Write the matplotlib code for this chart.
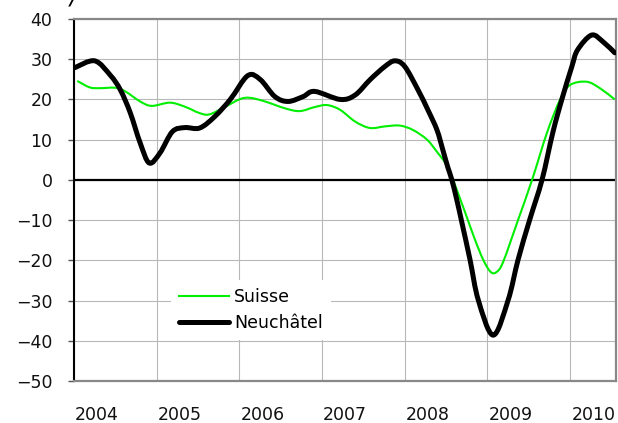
import matplotlib.pyplot as plt
import numpy as np
from matplotlib.path import Path
from matplotlib.patches import PathPatch
from matplotlib.lines import Line2D

# x positions in fractional years, values in %
neuchatel_x = [2004.01, 2004.25, 2004.44, 2004.56, 2004.68, 2004.80, 2004.91, 2005.04,
               2005.19, 2005.34, 2005.52, 2005.70, 2005.89, 2006.10, 2006.25, 2006.43,
               2006.59, 2006.77, 2006.91, 2007.22, 2007.40, 2007.58, 2007.76, 2007.88,
               2008.00, 2008.16, 2008.28, 2008.39, 2008.46, 2008.52, 2008.57, 2008.63,
               2008.69, 2008.79, 2008.89, 2009.07, 2009.25, 2009.37, 2009.51, 2009.66,
               2009.79, 2009.90, 2010.02, 2010.09, 2010.26, 2010.40, 2010.54]
neuchatel_y = [27.9, 29.6, 26.0, 22.4, 16.7, 9.2, 4.2, 6.7,
               12.0, 13.0, 12.9, 15.7, 20.0, 25.9, 25.0, 20.7,
               19.5, 20.7, 22.0, 20.0, 21.1, 24.9, 28.2, 29.6,
               28.2, 22.4, 17.4, 12.4, 7.5, 3.2, 0.0, -5.0,
               -10.5, -19.9, -29.9, -38.6, -29.9, -19.9, -10.0, 0.0,
               11.7, 20.0, 28.1, 32.3, 36.0, 34.3, 31.6]

suisse_x = [2004.04, 2004.19, 2004.31, 2004.50, 2004.62, 2004.80, 2004.94, 2005.16,
            2005.34, 2005.52, 2005.64, 2005.83, 2006.01, 2006.13, 2006.31, 2006.55,
            2006.73, 2006.91, 2007.06, 2007.22, 2007.40, 2007.58, 2007.76, 2007.94,
            2008.10, 2008.27, 2008.40, 2008.49, 2008.57, 2008.63, 2008.75, 2008.85,
            2008.95, 2009.04, 2009.11, 2009.19, 2009.37, 2009.54, 2009.72, 2009.88,
            2010.00, 2010.20, 2010.36, 2010.54]
suisse_y = [24.6, 23.0, 22.8, 22.9, 22.0, 19.5, 18.4, 19.2,
            18.2, 16.6, 16.3, 18.2, 20.1, 20.4, 19.5, 17.8,
            17.1, 18.1, 18.6, 17.4, 14.5, 12.9, 13.3, 13.5,
            12.4, 10.0, 6.7, 4.2, 0.7, -2.5, -9.2, -14.9,
            -19.9, -22.9, -22.9, -20.4, -10.0, 0.0, 11.7, 20.0,
            23.6, 24.4, 22.8, 20.0]

years = [2004, 2005, 2006, 2007, 2008, 2009, 2010]
y_ticks = list(range(-50, 41, 10))


def smooth_path(xs, ys):
    # Catmull-Rom style Bezier through the points (like Excel's smoothed lines)
    pts = np.column_stack([xs, ys])
    n = len(pts)
    verts = [pts[0]]
    codes = [Path.MOVETO]
    for i in range(n - 1):
        p0 = pts[max(i - 1, 0)]
        p1 = pts[i]
        p2 = pts[i + 1]
        p3 = pts[min(i + 2, n - 1)]
        verts += [p1 + (p2 - p0) / 6, p2 - (p3 - p1) / 6, p2]
        codes += [Path.CURVE4] * 3
    return Path(verts, codes)


fig = plt.figure(figsize=(6.18, 4.23), dpi=100)
ax = fig.add_axes([74 / 618, 1 - 381 / 423, 542 / 618, 362 / 423])

ax.set_xlim(2004, 2010.555)
ax.set_ylim(-50, 40)

ax.set_yticks(y_ticks)
ax.set_xticks(years)
ax.set_xticks([y + 0.28 for y in years], minor=True)
ax.set_xticklabels([])
ax.set_xticklabels([str(y) for y in years], minor=True)
ax.tick_params(axis="x", which="both", length=0, pad=18, labelsize=12.5, labelcolor="#111111")
ax.tick_params(axis="y", length=4.5, width=1, color="#555555", pad=11,
               labelsize=12.5, labelcolor="#111111")

ax.grid(True, which="major", color="#b8b8b8", linewidth=0.8, zorder=0)
ax.axhline(0, color="black", linewidth=1.6, zorder=2)

ax.add_patch(PathPatch(smooth_path(suisse_x, suisse_y), facecolor="none",
                       edgecolor="#00ee00", linewidth=1.5, joinstyle="round", zorder=3))
ax.add_patch(PathPatch(smooth_path(neuchatel_x, neuchatel_y), facecolor="none",
                       edgecolor="black", linewidth=3.6, joinstyle="round",
                       capstyle="round", zorder=4))

ax.spines["left"].set_color("black")
ax.spines["left"].set_linewidth(1.5)
for side in ("top", "right", "bottom"):
    ax.spines[side].set_color("#888888")
    ax.spines[side].set_linewidth(1.6)

handles = [Line2D([], [], color="#00ee00", linewidth=1.5),
           Line2D([], [], color="black", linewidth=3.6, solid_capstyle="round")]
leg = ax.legend(handles, ["Suisse", "Neuchâtel"], loc="upper left",
                bbox_to_anchor=((171 - 74) / 542, (381 - 280) / 362),
                frameon=True, fontsize=12.5, handlelength=2.9, handletextpad=0.3,
                labelspacing=0.5, borderpad=0.45, borderaxespad=0)
leg.get_frame().set_facecolor("white")
leg.get_frame().set_edgecolor("none")
leg.get_frame().set_alpha(1)
leg.get_frame().set_boxstyle("square", pad=0)

fig.text(70 / 618, 1.0, "/", fontsize=13, fontweight="bold", style="italic",
         ha="left", va="center")

fig.savefig("out.png", dpi=100)
